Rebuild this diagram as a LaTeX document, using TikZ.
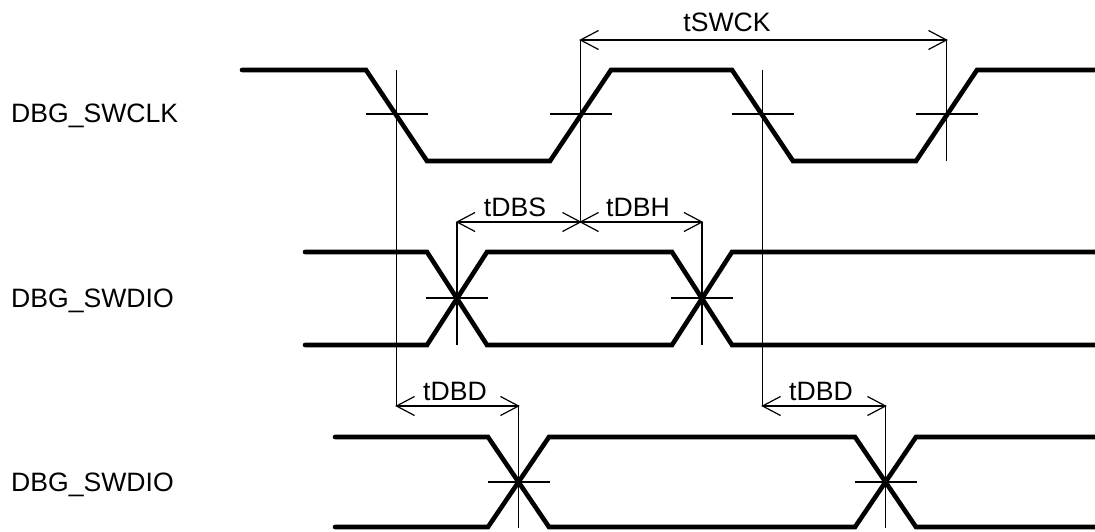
\documentclass[tikz,border=0pt]{standalone}
\usepackage{fontspec}
\setmainfont{Liberation Sans}
\begin{document}
\begin{tikzpicture}[x=1pt,y=-1pt,
  wave/.style={line width=4.6pt,line cap=round,line join=miter},
  thin/.style={line width=1.2pt},
  sig/.style={font=\fontsize{26.6}{30}\selectfont,inner sep=0pt,anchor=base west},
  tlabel/.style={font=\fontsize{26.6}{30}\selectfont,inner sep=0pt,anchor=base}]
\useasboundingbox (0,0) rectangle (1095,532);
% signal names
\node[sig] (n1) at (11,123) {DBG\_SWCLK};
\node[sig] (n2) at (11,307) {DBG\_SWDIO};
\node[sig] (n3) at (11,491) {DBG\_SWDIO};
% SWCLK
\draw[wave] (242,70) -- (366,70) -- (427,161) -- (550,161) -- (611,70) -- (732,70) -- (793,161) -- (916,161) -- (977,70) -- (1095,70);
% SWDIO middle
\draw[wave] (305,252) -- (427,252) -- (487,345) -- (672,345) -- (732,252) -- (1095,252);
\draw[wave] (305,345) -- (427,345) -- (487,252) -- (672,252) -- (732,345) -- (1095,345);
% SWDIO bottom
\draw[wave] (335,437) -- (488,437) -- (549,527) -- (855,527) -- (916,437) -- (1095,437);
\draw[wave] (335,527) -- (488,527) -- (549,437) -- (855,437) -- (916,527) -- (1095,527);
% crossing ticks
\coordinate (c1) at (396.5,114);
\coordinate (c2) at (580.5,114);
\coordinate (c3) at (762.5,114);
\coordinate (c4) at (946.5,114);
\coordinate (d1) at (457,298);
\coordinate (d2) at (702,298);
\coordinate (e1) at (518.5,482);
\coordinate (e2) at (885.5,482);
\foreach \p in {c1,c2,c3,c4,d1,d2,e1,e2}
  \draw[thin] ([xshift=-31pt]\p) -- ([xshift=31pt]\p);
% vertical reference lines
\coordinate (a1) at (396.5,406);
\coordinate (a2) at (762.5,406);
\coordinate (b1) at (518.5,406);
\coordinate (b2) at (885.5,406);
\coordinate (s1) at (580.5,40);
\coordinate (s2) at (946.5,40);
\coordinate (h0) at (580.5,222);
\coordinate (h1) at (457,222);
\coordinate (h2) at (702,222);
\draw[thin] (396.5,70) -- (a1);
\draw[thin] (762.5,70) -- (a2);
\draw[thin] (s1) -- (h0);
\draw[thin] (s2) -- (946.5,161);
\draw[thin] (h1) -- (457,345);
\draw[thin] (h2) -- (702,345);
\draw[thin] (b1) -- (518.5,528);
\draw[thin] (b2) -- (885.5,528);
% dimension lines
\draw[thin] (s1) -- (s2);
\draw[thin] (h1) -- (h0);
\draw[thin] (h0) -- (h2);
\draw[thin] (a1) -- (b1);
\draw[thin] (a2) -- (b2);
% open arrowheads: left-pointing tips
\foreach \p in {s1,h1,h0,a1,a2}
  \draw[thin,line join=miter] ([shift={(18,-9.5)}]\p) -- (\p) -- ([shift={(18,9.5)}]\p);
% right-pointing tips
\foreach \p in {s2,h0,h2,b1,b2}
  \draw[thin,line join=miter] ([shift={(-18,-9.5)}]\p) -- (\p) -- ([shift={(-18,9.5)}]\p);
% timing labels
\node[tlabel] (l1) at (727,32) {tSWCK};
\node[tlabel] (l2) at (515,216) {tDBS};
\node[tlabel] (l3) at (638,216) {tDBH};
\node[tlabel] (l4) at (455,400) {tDBD};
\node[tlabel] (l5) at (821,400) {tDBD};
\end{tikzpicture}
\end{document}
